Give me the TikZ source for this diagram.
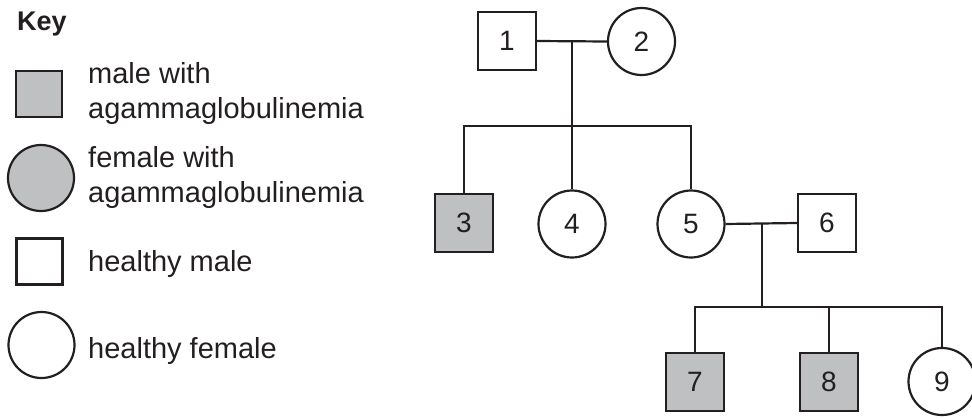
\documentclass[tikz,border=0pt]{standalone}
\usepackage{fontspec}
\setmainfont{Liberation Sans}
\definecolor{ink}{RGB}{35,31,32}
\definecolor{affected}{RGB}{190,192,194}
\tikzset{
  lw/.style={line width=2.2pt, draw=ink},
  male/.style={lw, rectangle, minimum size=58pt, inner sep=0pt, fill=white, text=ink, font=\fontsize{28}{30}\selectfont},
  female/.style={lw, circle, minimum size=67pt, inner sep=0pt, fill=white, text=ink, font=\fontsize{28}{30}\selectfont},
  sick/.style={fill=affected},
  keymale/.style={lw, rectangle, minimum size=46pt, inner sep=0pt},
  keyfemale/.style={lw, circle, minimum size=66pt, inner sep=0pt},
  keytext/.style={anchor=base west, inner sep=0pt, text=ink, font=\fontsize{29}{35}\selectfont},
  link/.style={lw}
}
\begin{document}
\begin{tikzpicture}[x=1pt,y=-1pt]
\useasboundingbox (0,0) rectangle (972,418);
% Key
\node[anchor=base west, inner sep=0pt, text=ink, font=\fontsize{27}{30}\selectfont\bfseries] (key) at (17,30) {Key};
\node[keymale, sick] (k1) at (39,94) {};
\node[keytext] (k1a) at (88,83) {male with};
\node[keytext] (k1b) at (88,118) {agammaglobulinemia};
\node[keyfemale, sick] (k2) at (41,178) {};
\node[keytext] (k2a) at (88,167) {female with};
\node[keytext] (k2b) at (88,202) {agammaglobulinemia};
\node[keymale, fill=white] (k3) at (39.5,261.5) {};
\node[keytext] (k3a) at (88,271) {healthy male};
\node[keyfemale, fill=white] (k4) at (41.5,345) {};
\node[keytext] (k4a) at (88,358) {healthy female};
% Pedigree
\node[male] (n1) at (507,41) {1};
\node[female] (n2) at (641.5,41.5) {2};
\node[male, sick] (n3) at (464,223) {3};
\node[female] (n4) at (572,224) {4};
\node[female] (n5) at (691,224) {5};
\node[male] (n6) at (827,223) {6};
\node[male, sick] (n7) at (695,382) {7};
\node[male, sick] (n8) at (829,382) {8};
\node[female] (n9) at (942,381.5) {9};
\coordinate (m1) at (572,41);
\coordinate (s1) at (572,126);
\coordinate (m2) at (762,223);
\coordinate (s2) at (762,307);
\draw[link] (n1.east) -- (n2.west);
\draw[link] (m1) -- (s1);
\draw[link] (n3.north) -- (n3.north |- s1) -- (n5.north |- s1) -- (n5.north);
\draw[link] (n4.north) -- (n4.north |- s1);
\draw[link] (n5.east) -- (n6.west);
\draw[link] (m2) -- (s2);
\draw[link] (n7.north) -- (n7.north |- s2) -- (n9.north |- s2) -- (n9.north);
\draw[link] (n8.north) -- (n8.north |- s2);
\end{tikzpicture}
\end{document}
